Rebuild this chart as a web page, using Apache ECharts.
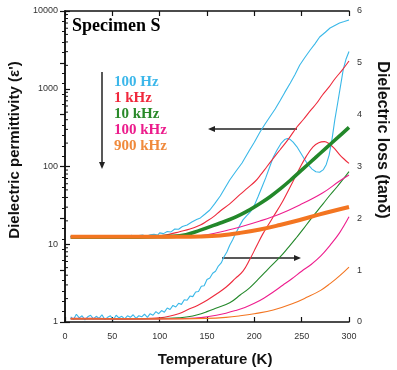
<!DOCTYPE html>
<html><head><meta charset="utf-8">
<script src="https://cdn.jsdelivr.net/npm/echarts@6/dist/echarts.min.js"></script>
<style>html,body{margin:0;padding:0;background:#fff}#c{width:397px;height:370px}</style>
</head><body><div id="c"></div>
<script>
// ---------- data ----------
const freqLabels = ['100 Hz', '1 kHz', '10 kHz', '100 kHz', '900 kHz'];
const colors = ['#3ab8e8', '#ee2a3c', '#23882a', '#ee1e8e', '#f37521'];
const legendColors = ['#3cb7ea', '#f0283c', '#2a8a2a', '#ec1c8c', '#f08a3c'];

// Dielectric permittivity eps' vs temperature [T (K), eps'] - left (log) axis
const permCyan = [[6,12.6],[10,12.9],[14,12.2],[18,12.8],[22,12.4],[26,13.0],[30,12.1],[34,12.7],[38,12.3],[42,12.9],[46,12.0],[50,12.6],[54,12.9],[58,12.2],[62,12.8],[66,12.4],[70,13.0],[74,12.6],[78,12.9],[82,13.1],[86,12.7],[90,13.2],[94,13.4],[98,13.1],[100,14.0],[104,13.7],[108,14.6],[112,14.4],[116,15.7],[120,15.6],[124,16.9],[129,17.7],[134,19.3],[139,20.8],[143,21.8],[148,24.5],[153,27.6],[158,33],[164,41.8],[169,53],[174,67],[180,85],[187,111],[195,163],[200,205],[206,278],[211,347],[217,446],[222,550],[227,695],[232,891],[238,1186],[243,1528],[248,2020],[253,2483],[259,3150],[264,3784],[269,4630],[275,5330],[280,6040],[285,6505],[290,7010],[295,7310],[300,7660]];
const permRed = [[6,12.5],[40,12.5],[80,12.6],[100,12.8],[111,13.5],[121,14.5],[132,15.7],[143,17.7],[150,19.9],[157,22.7],[164,26.8],[174,33.1],[185,43.7],[193,53],[201,64.6],[207,79],[213,98.6],[220,127],[227,163],[236,225],[245,322],[252,405],[259,518],[266,655],[272,832],[279,1055],[285,1334],[293,1750],[300,2275]];
const permGreen = [[6,12.3],[60,12.3],[100,12.5],[121,12.8],[143,15.2],[164,18.8],[174,20.8],[185,23.9],[195,27.7],[206,33.4],[217,41.2],[228,52.3],[240,69.8],[252,94.6],[264,128],[276,174],[288,235],[300,319]];
const permMagenta = [[6,12.4],[100,12.5],[143,12.9],[164,14.4],[185,16.7],[206,19.9],[227,24.5],[248,32],[272,45.6],[290,65],[300,77.8]];
const permOrange = [[6,12.5],[100,12.5],[120,12.5],[143,12.6],[164,13.0],[185,14.0],[206,15.5],[227,17.7],[248,20.5],[269,24.2],[300,30.1]];

// Dielectric loss tan(delta) vs temperature [T (K), tan delta] - right axis
const lossCyan = [[6,0.10],[9,0.05],[12,0.15],[15,0.08],[18,0.12],[21,0.04],[24,0.10],[27,0.13],[30,0.06],[33,0.11],[36,0.07],[39,0.14],[42,0.05],[45,0.09],[48,0.12],[51,0.04],[54,0.13],[57,0.08],[60,0.11],[63,0.06],[66,0.12],[69,0.09],[72,0.14],[75,0.07],[78,0.12],[81,0.10],[84,0.15],[87,0.09],[90,0.16],[93,0.13],[96,0.20],[99,0.16],[102,0.22],[105,0.19],[108,0.27],[111,0.24],[114,0.32],[117,0.29],[120,0.36],[123,0.34],[126,0.43],[129,0.42],[132,0.50],[135,0.49],[138,0.58],[141,0.59],[144,0.69],[147,0.70],[150,0.82],[153,0.85],[156,0.94],[159,0.98],[162,1.08],[165,1.14],[168,1.26],[171,1.35],[174,1.48],[177,1.58],[180,1.70],[184,1.84],[188,1.97],[192,2.05],[196,2.13],[200,2.25],[204,2.42],[208,2.60],[212,2.78],[216,2.98],[220,3.18],[224,3.32],[228,3.44],[232,3.52],[235,3.54],[238,3.52],[241,3.47],[245,3.38],[249,3.26],[253,3.14],[257,3.03],[261,2.95],[265,2.90],[269,2.89],[273,2.94],[276,3.04],[279,3.22],[282,3.52],[285,3.90],[288,4.22],[291,4.55],[294,4.88],[297,5.08],[300,5.22]];
const lossRed = [[6,0.07],[30,0.07],[60,0.06],[90,0.07],[100,0.08],[110,0.11],[120,0.16],[130,0.24],[140,0.32],[150,0.42],[160,0.54],[170,0.67],[180,0.84],[188,0.98],[195,1.20],[202,1.45],[209,1.70],[215,1.88],[220,2.03],[230,2.33],[240,2.68],[248,2.97],[255,3.20],[262,3.38],[268,3.46],[274,3.48],[279,3.44],[284,3.36],[290,3.23],[295,3.14],[300,3.06]];
const lossGreen = [[6,0.06],[60,0.06],[110,0.07],[120,0.08],[130,0.10],[140,0.14],[150,0.20],[160,0.27],[174,0.37],[185,0.52],[195,0.66],[206,0.86],[215,1.03],[227,1.25],[236,1.44],[245,1.64],[252,1.80],[259,1.97],[266,2.13],[273,2.29],[280,2.45],[287,2.60],[294,2.76],[300,2.90]];
const lossMagenta = [[6,0.06],[100,0.06],[140,0.08],[150,0.10],[160,0.13],[170,0.17],[180,0.22],[190,0.28],[200,0.36],[210,0.46],[220,0.58],[230,0.71],[240,0.84],[250,0.98],[260,1.11],[270,1.27],[280,1.48],[290,1.72],[300,2.03]];
const lossOrange = [[6,0.06],[100,0.06],[150,0.07],[170,0.09],[185,0.12],[200,0.16],[220,0.23],[240,0.35],[256,0.48],[270,0.61],[280,0.74],[290,0.89],[300,1.06]];

// axes
const tempRange = [0, 300];
const permRange = [1, 10000];
const lossRange = [0, 6];
const permMinorTicks = [2,3,4,5,6,7,8,9,20,30,40,50,60,70,80,90,200,300,400,500,600,700,800,900,2000,3000,4000,5000,6000,7000,8000,9000];

// ---------- chart ----------
const chart = echarts.init(document.getElementById('c'), null, {renderer: 'canvas'});
const AX = '#111';
const tickFont = {fontSize: 9, color: '#333', fontFamily: 'Liberation Sans, Arial, sans-serif'};
const axisLine = {show: true, lineStyle: {color: AX, width: 1.5}};
const axisTick = {show: true, inside: true, length: 5, lineStyle: {color: AX, width: 1.2}};

function lineSeries(name, data, yIdx, color, width, smooth) {
  return {
    name, type: 'line', data, xAxisIndex: 0, yAxisIndex: yIdx,
    showSymbol: false, symbol: 'none', smooth: smooth,
    lineStyle: {color, width}, silent: true, z: 3
  };
}

const series = [
  lineSeries('loss 100 Hz', lossCyan, 1, colors[0], 1.1, false),
  lineSeries('loss 1 kHz', lossRed, 1, colors[1], 1.1, 0.4),
  lineSeries('loss 10 kHz', lossGreen, 1, colors[2], 1.1, 0.4),
  lineSeries('loss 100 kHz', lossMagenta, 1, colors[3], 1.1, 0.4),
  lineSeries('loss 900 kHz', lossOrange, 1, colors[4], 1.1, 0.4),
  lineSeries('eps 100 Hz', permCyan, 0, colors[0], 1.1, false),
  lineSeries('eps 1 kHz', permRed, 0, colors[1], 1.1, 0.4),
  lineSeries('eps 10 kHz', permGreen, 0, colors[2], 3.6, 0.4),
  lineSeries('eps 100 kHz', permMagenta, 0, colors[3], 1.1, 0.4),
  lineSeries('eps 900 kHz', permOrange, 0, colors[4], 4, 0.4),
  {
    type: 'custom', xAxisIndex: 0, yAxisIndex: 0, silent: true, z: 5,
    data: permMinorTicks.map(v => [tempRange[0], v]),
    renderItem(params, api) {
      const p = api.coord([api.value(0), api.value(1)]);
      return {type: 'line', shape: {x1: p[0], y1: p[1], x2: p[0] + 3, y2: p[1]}, style: {stroke: AX, lineWidth: 1}};
    }
  }
];

const legendGraphics = freqLabels.map((t, i) => ({
  type: 'text', x: 114, y: 82.5 + 16 * i,
  style: {text: t, fill: legendColors[i], font: 'bold 15px "Liberation Serif", "Times New Roman", serif', align: 'left', verticalAlign: 'middle'}
}));

const option = {
  animation: false,
  backgroundColor: '#fff',
  grid: {left: 65, right: 48, top: 11, bottom: 48},
  xAxis: [
    {type: 'value', min: tempRange[0], max: tempRange[1], interval: 50, position: 'bottom',
      axisLine, axisTick, splitLine: {show: false},
      axisLabel: Object.assign({margin: 10}, tickFont)},
    {type: 'value', min: tempRange[0], max: tempRange[1], interval: 50, position: 'top',
      axisLine, axisTick, splitLine: {show: false}, axisLabel: {show: false}}
  ],
  yAxis: [
    {type: 'log', logBase: 10, min: permRange[0], max: permRange[1], position: 'left',
      axisLine, axisTick, splitLine: {show: false}, minorTick: {show: false},
      axisLabel: Object.assign({margin: 7, formatter: v => String(Math.round(v))}, tickFont)},
    {type: 'value', min: lossRange[0], max: lossRange[1], interval: 1, position: 'right',
      axisLine, axisTick, splitLine: {show: false},
      minorTick: {show: true, splitNumber: 5, length: 3, lineStyle: {color: AX, width: 1}},
      axisLabel: Object.assign({margin: 8}, tickFont)}
  ],
  series,
  graphic: [
    {type: 'text', x: 72, y: 26, style: {text: 'Specimen S', fill: '#000', font: 'bold 18px "Liberation Serif", "Times New Roman", serif', align: 'left', verticalAlign: 'middle'}},
    ...legendGraphics,
    {type: 'text', x: 15, y: 150, rotation: Math.PI / 2, style: {text: "Dielectric permittivity (ε')", fill: '#111', font: 'bold 15px "Liberation Sans", Arial, sans-serif', align: 'center', verticalAlign: 'middle'}},
    {type: 'text', x: 382, y: 140, rotation: -Math.PI / 2, style: {text: 'Dielectric loss (tanδ)', fill: '#111', font: 'bold 16px "Liberation Sans", Arial, sans-serif', align: 'center', verticalAlign: 'middle'}},
    {type: 'text', x: 215, y: 360, style: {text: 'Temperature (K)', fill: '#111', font: 'bold 15px "Liberation Sans", Arial, sans-serif', align: 'center', verticalAlign: 'middle'}},
    // arrows
    {type: 'line', shape: {x1: 102, y1: 72, x2: 102, y2: 164}, style: {stroke: '#222', lineWidth: 1.5}},
    {type: 'polygon', shape: {points: [[99, 162], [105, 162], [102, 169]]}, style: {fill: '#222'}},
    {type: 'line', shape: {x1: 297, y1: 129, x2: 212, y2: 129}, style: {stroke: '#222', lineWidth: 1.5}},
    {type: 'polygon', shape: {points: [[215, 126], [215, 132], [208, 129]]}, style: {fill: '#222'}},
    {type: 'line', shape: {x1: 222, y1: 258, x2: 296, y2: 258}, style: {stroke: '#222', lineWidth: 1.5}},
    {type: 'polygon', shape: {points: [[294, 255], [294, 261], [301, 258]]}, style: {fill: '#222'}}
  ]
};
chart.setOption(option);
</script>
</body></html>
